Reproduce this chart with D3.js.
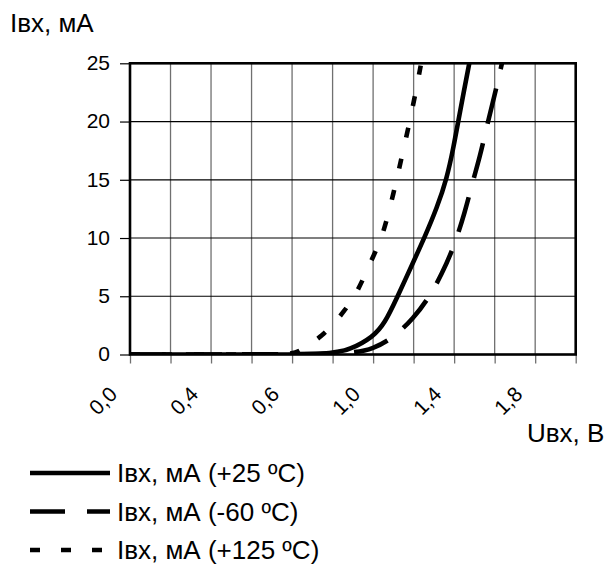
<!DOCTYPE html>
<html>
<head>
<meta charset="utf-8">
<script src="https://cdn.jsdelivr.net/npm/d3@7"></script>
<style>
  html, body { margin: 0; padding: 0; background: #fff; }
  svg { display: block; font-family: "Liberation Sans", Arial, sans-serif; }
</style>
</head>
<body>
<svg id="chart" width="606" height="569"></svg>
<script>
// ---- data ----
const categories = ["0,0","0,2","0,4","0,5","0,6","0,8","1,0","1,2","1,4","1,6","1,8","2,0"];
const categoryValues = [0.0,0.2,0.4,0.5,0.6,0.8,1.0,1.2,1.4,1.6,1.8,2.0];
const shownLabels = ["0,0","0,4","0,6","1,0","1,4","1,8"];
const yTicks = [0, 5, 10, 15, 20, 25];

const seriesNames = ["Iвх, мА (+25 ºC)", "Iвх, мА (-60 ºC)", "Iвх, мА (+125 ºC)"];

const u25  = [0, 0.5, 0.787, 0.885, 1.0, 1.058, 1.116, 1.2, 1.255, 1.315, 1.364, 1.398, 1.42, 1.448, 1.477];
const i25  = [0, 0,   0,     0.4,   1.5, 2.7,   4.8,   8.0, 10.1,  12.6,  15.1,  17.9,  20.0, 22.6,  25.2];

const uM60 = [0, 0.5, 0.9,  1.0, 1.097, 1.2, 1.28, 1.339, 1.398, 1.453, 1.494, 1.526, 1.56, 1.599, 1.636];
const iM60 = [0, 0,   0.05, 0.5, 1.4,   3.1, 5.0,  6.9,   9.2,   12.2,  15.0,  16.9,  19.5, 22.2,  25.0];

const u125 = [0, 0.5, 0.6, 0.638, 0.698, 0.746, 0.8, 0.856, 0.91, 0.954, 1.0, 1.042, 1.078, 1.116, 1.147, 1.181, 1.211, 1.235];
const i125 = [0, 0,   0,   0.3,   1.0,   1.6,   2.5, 3.7,   5.0,  6.6,   8.4, 10.0,  12.2,  15.0,  17.4,  20.0,  22.6,  24.8];

// ---- layout ----
const svg = d3.select("#chart");
const L = 130, R = 575.7, T = 63.3, B = 354.5;

const xCat = d3.scalePoint().domain(categories).range([L, R]);
const xVal = d3.scaleLinear().domain(categoryValues).range(categories.map(c => xCat(c)));
const y = d3.scaleLinear().domain([0, 25]).range([B, T]);

// grid: vertical (grey)
svg.append("g").selectAll("line").data(categories).join("line")
  .attr("x1", d => xCat(d)).attr("x2", d => xCat(d))
  .attr("y1", T).attr("y2", B)
  .attr("stroke", "#707070").attr("stroke-width", 1.3);
// grid: horizontal (black)
svg.append("g").selectAll("line").data(yTicks).join("line")
  .attr("x1", L).attr("x2", R)
  .attr("y1", d => y(d)).attr("y2", d => y(d))
  .attr("stroke", "#000").attr("stroke-width", 1.2);

// y axis ticks & labels
const yAxis = d3.axisLeft(y).tickValues(yTicks).tickSize(10).tickFormat(d => d);
const gy = svg.append("g").attr("transform", `translate(${L},0)`).call(yAxis);
gy.select(".domain").remove();
gy.selectAll(".tick line").attr("stroke", "#000").attr("stroke-width", 1.2);
gy.selectAll(".tick text").attr("x", -20).attr("dy", "0.3em")
  .attr("font-size", 21).attr("fill", "#000")
  .attr("font-family", "Liberation Sans, Arial, sans-serif");

// x axis ticks & labels
const xAxis = d3.axisBottom(xCat).tickSize(9).tickFormat(d => shownLabels.includes(d) ? d : "");
const gx = svg.append("g").attr("transform", `translate(0,${B})`).call(xAxis);
gx.select(".domain").remove();
gx.selectAll(".tick line").attr("stroke", "#707070").attr("stroke-width", 1.3);
gx.selectAll(".tick text")
  .attr("font-size", 21).attr("fill", "#000")
  .attr("font-family", "Liberation Sans, Arial, sans-serif")
  .attr("text-anchor", "end")
  .attr("y", 0).attr("dy", 0)
  .attr("transform", "translate(-12,41) rotate(-45)");

// series
const clipId = "plotclip";
svg.append("clipPath").attr("id", clipId).append("rect")
  .attr("x", L).attr("y", T).attr("width", R - L).attr("height", B - T);

const line = d3.line().x(d => xVal(d[0])).y(d => y(d[1])).curve(d3.curveBasis);
const series = [
  { name: seriesNames[1], pts: d3.zip(uM60, iM60), dash: "36,20" },
  { name: seriesNames[2], pts: d3.zip(u125, i125), dash: "10,22" },
  { name: seriesNames[0], pts: d3.zip(u25, i25), dash: null }
];
const gS = svg.append("g").attr("clip-path", `url(#${clipId})`);
series.forEach(s => {
  gS.append("path").datum(s.pts)
    .attr("d", line)
    .attr("fill", "none").attr("stroke", "#000")
    .attr("stroke-width", 4.6)
    .attr("stroke-dasharray", s.dash)
    .attr("stroke-linecap", "butt");
});

// frame
svg.append("rect").attr("x", L).attr("y", T).attr("width", R - L).attr("height", B - T)
  .attr("fill", "none").attr("stroke", "#000").attr("stroke-width", 2.6);

// axis titles
svg.append("text").attr("x", 10).attr("y", 32).attr("font-size", 26).text("Iвх, мА");
svg.append("text").attr("x", 527).attr("y", 442).attr("font-size", 26).text("Uвх, В");

// legend
const legend = [
  { name: seriesNames[0], dash: null },
  { name: seriesNames[1], dash: "35,22" },
  { name: seriesNames[2], dash: "10,21" }
];
legend.forEach((d, i) => {
  const ly = 473 + i * 38.5;
  svg.append("line").attr("x1", 30).attr("x2", 110).attr("y1", ly).attr("y2", ly)
    .attr("stroke", "#000").attr("stroke-width", 4.6).attr("stroke-dasharray", d.dash);
  svg.append("text").attr("x", 117).attr("y", ly + 9).attr("font-size", 26).text(d.name);
});
</script>
</body>
</html>
